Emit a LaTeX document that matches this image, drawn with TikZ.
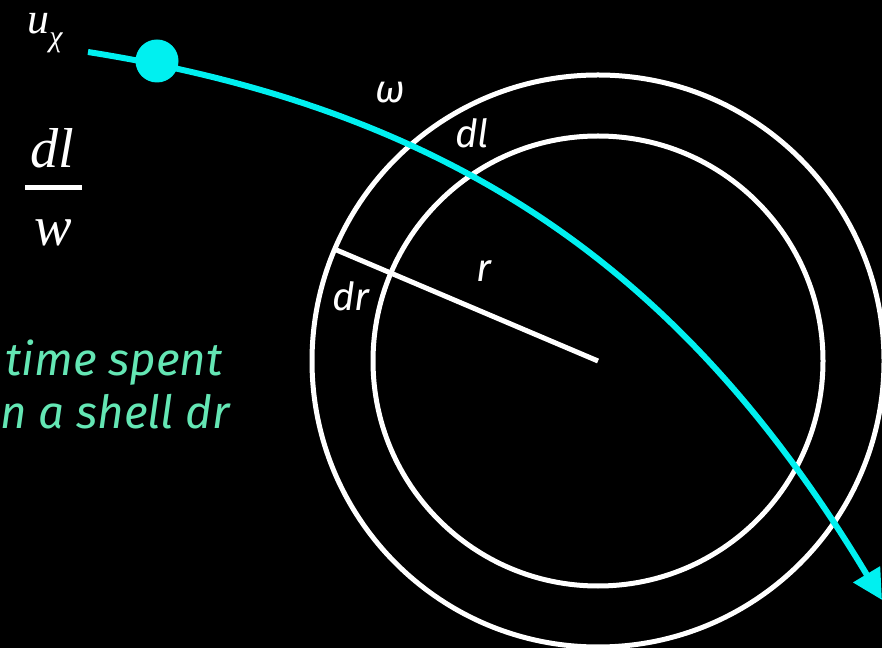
\documentclass[tikz,border=0pt]{standalone}
\usepackage{fontspec}
\newfontfamily\timesfont{Liberation Serif}
\newfontfamily\handfont{Fira Sans}
\usetikzlibrary{arrows.meta,calc}
\definecolor{chicyan}{RGB}{0,240,240}
\definecolor{notegreen}{RGB}{100,230,180}
\tikzset{
  shell/.style={
    draw=white,
    line width=1mm
  },
  track/.style={
    draw=chicyan,
    line width=1.2mm,
    -{Triangle[length=6mm,width=6mm]}
  },
  particle/.style={
    shape=circle,
    fill=chicyan,
    inner sep=0pt,
    minimum size=0.86cm
  },
  hand/.style={
    text=white,
    inner sep=0pt,
    font=\handfont\itshape\fontsize{22}{26}\selectfont
  },
  note/.style={
    text=notegreen,
    inner sep=0pt,
    font=\handfont\itshape\fontsize{26}{30}\selectfont
  },
  serifmath/.style={
    text=white,
    inner sep=0pt,
    font=\timesfont\itshape\fontsize{32}{36}\selectfont
  },
  fracbar/.style={
    draw=white,
    line width=1mm
  }
}

\begin{document}
\begin{tikzpicture}
    \fill[black] (0,0) rectangle (17.64,12.96);
    \useasboundingbox (0,0) rectangle (17.64,12.96);
    % shells
    \coordinate (centre) at (11.96,5.74);
    \draw[shell] (centre) circle (5.72);
    \draw[shell] (centre) circle (4.5);
    \coordinate (rim) at ($(centre)+(157:5.72)$);
    \draw[shell] (centre) -- (rim);
    % trajectory
    \coordinate (entry) at (1.76,11.92);
    \coordinate (exit) at (17.64,0.96);
    \draw[track] (entry) to[out=-9,in=121] (exit);
    \node[particle] (chi) at (3.14,11.74) {};
    % labels
    \node[text=white,inner sep=0pt,font=\timesfont\itshape\fontsize{25}{28}\selectfont] (uchi) at (0.9,12.3)
        {u\raisebox{-0.3em}{\fontsize{17}{17}\selectfont χ}};
    \node[serifmath] (dl) at (1.04,10.0) {dl};
    \node[serifmath] (w) at (1.06,8.3) {w};
    \coordinate (barl) at (0.5,9.2);
    \coordinate (barr) at (1.64,9.2);
    \draw[fracbar] (barl) -- (barr);
    \node[hand] (omega) at (7.8,11.1) {ω};
    \node[hand] (dlshell) at (9.44,10.3) {dl};
    \node[hand] (radius) at (9.68,7.54) {r};
    \node[hand] (drshell) at (7.02,7.04) {dr};
    \node[note,anchor=west] (time) at (0.1,5.7) {time spent};
    \node[note,anchor=west] (shellnote) at (0,4.72) {n a shell dr};
\end{tikzpicture}
\end{document}
